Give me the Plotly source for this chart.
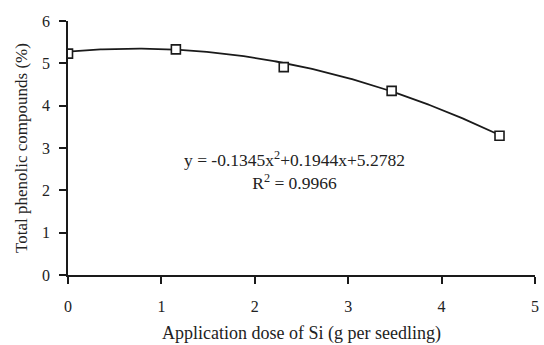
import numpy as np
import plotly.graph_objects as go

dose = [0, 1.155, 2.31, 3.465, 4.62]
phenolic = [5.23, 5.33, 4.91, 4.35, 3.29]
fit_coeffs = [-0.1345, 0.1944, 5.2782]
eq_text = "y = -0.1345x<sup>2</sup>+0.1944x+5.2782<br>R<sup>2</sup> = 0.9966"

xs = np.linspace(0, 4.62, 200)
ys = np.polyval(fit_coeffs, xs)

FONT = "Liberation Serif"
fig = go.Figure()
fig.add_trace(go.Scatter(x=xs, y=ys, mode="lines",
                         line=dict(color="#1a1a1a", width=1.8), showlegend=False))
fig.add_trace(go.Scatter(x=dose, y=phenolic, mode="markers",
                         marker=dict(symbol="square", size=9, color="white",
                                     line=dict(color="#1a1a1a", width=1.6)),
                         showlegend=False))
fig.add_annotation(x=2.43, y=2.48, text=eq_text, showarrow=False,
                   font=dict(family=FONT, size=17.5, color="#222"), align="center")

fig.update_layout(
    width=544, height=345,
    margin=dict(l=68, r=5, t=21, b=69),
    paper_bgcolor="white", plot_bgcolor="white",
    font=dict(family=FONT, size=16, color="#222"),
    xaxis=dict(range=[0, 5], tickvals=[0, 1, 2, 3, 4, 5], showgrid=False, zeroline=False,
               showline=True, linecolor="#1a1a1a", linewidth=1.8,
               ticks="outside", ticklen=7, tickwidth=1.5, tickcolor="#1a1a1a",
               ticklabelstandoff=9, tickfont=dict(size=16),
               title=dict(text="Application dose of Si (g per seedling)", standoff=12,
                          font=dict(size=18))),
    yaxis=dict(range=[0, 6], tickvals=[0, 1, 2, 3, 4, 5, 6], showgrid=False, zeroline=False,
               showline=True, linecolor="#1a1a1a", linewidth=1.8,
               ticks="outside", ticklen=7, tickwidth=1.5, tickcolor="#1a1a1a",
               ticklabelstandoff=6, tickfont=dict(size=16),
               title=dict(text="Total phenolic compounds (%)", standoff=10,
                          font=dict(size=17))),
)
fig.write_html("out.html")
